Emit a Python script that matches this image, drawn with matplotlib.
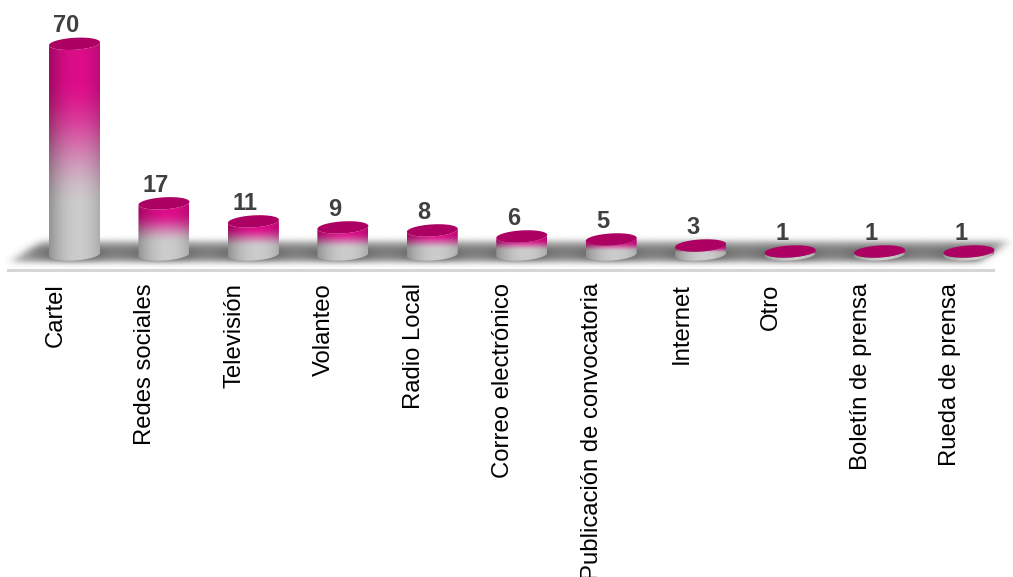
"""3D-looking cylinder bar chart of information channels."""
import numpy as np
import matplotlib.pyplot as plt
from matplotlib.patches import Polygon

categories = ["Cartel", "Redes sociales", "Televisión", "Volanteo", "Radio Local",
              "Correo electrónico", "Publicación de convocatoria", "Internet",
              "Otro", "Boletín de prensa", "Rueda de prensa"]
values = [70, 17, 11, 9, 8, 6, 5, 3, 1, 1, 1]

plt.rcParams['font.family'] = ['Liberation Sans', 'DejaVu Sans']

fig = plt.figure(figsize=(10.13, 5.77), dpi=100)
ax = fig.add_axes([0, 1 - 270 / 577, 1, 270 / 577])
XLIM = (-0.833, 10.492)
YLIM = (-5.15, 84.55)

# cylinder look
w = 0.285      # half width (category units)
h = 2.0        # half height of the ellipse (value units)
k = 0.5        # slight tilt of the ellipses
grey = np.array([0.80, 0.80, 0.80])
magenta = np.array([0.87, 0.05, 0.54])
top_col = '#ad0063'


def ell(cx, cy, t):
    return cx + w * np.cos(t), cy + h * np.sin(t) + k * np.cos(t)


def blur(a, sx, sy):
    def kern(s):
        r = np.arange(-3 * int(s) - 1, 3 * int(s) + 2)
        g = np.exp(-r ** 2 / (2 * s ** 2))
        return g / g.sum()
    kx, ky = kern(sx), kern(sy)
    a = np.apply_along_axis(lambda m: np.convolve(m, kx, mode='same'), 1, a)
    a = np.apply_along_axis(lambda m: np.convolve(m, ky, mode='same'), 0, a)
    return a


idx = np.arange(len(values))

# floor shadow
xs = np.linspace(XLIM[0], XLIM[1], 1013)
ys = np.linspace(YLIM[0], 10, 46)
X, Y = np.meshgrid(xs, ys)
front, back = -2.6, 4.6
frac = (Y - front) / (back - front)
left = -0.72 + frac * 0.36
right = 10.10 + frac * 0.35
floor = ((Y >= front) & (Y <= back) & (X >= left) & (X <= right)).astype(float)
blobs = np.zeros_like(X)
for i in idx:
    blobs += np.exp(-(((X - i + 0.02) / 0.40) ** 2 + ((Y + 0.5) / 2.6) ** 2))
streak = 0.15 * np.exp(-((Y - 1.5) / 1.2) ** 2)
mask = np.clip(0.45 * floor + 0.4 * blobs * floor + streak * floor, 0, 1)
mask = blur(mask, 5.0, 3.0)
shadow = np.zeros(X.shape + (4,))
shadow[..., :3] = 0.27
shadow[..., 3] = np.clip(mask * 1.05, 0, 1)
ax.imshow(shadow, extent=[xs[0], xs[-1], ys[0], ys[-1]], origin='lower',
          aspect='auto', interpolation='bilinear', zorder=1)

# cylinders
for i, v in zip(idx, values):
    tb = np.linspace(np.pi, 2 * np.pi, 40)
    bx, by = ell(i, 0, tb)
    tt = np.linspace(0, -np.pi, 40)
    tx, ty = ell(i, v, tt)
    verts = np.column_stack([np.r_[bx, tx], np.r_[by, ty]])
    side = Polygon(verts, closed=True, facecolor='none', edgecolor='none')
    ax.add_patch(side)

    ny, nx = 200, 60
    y0, y1 = -h - k - 0.5, v + h + k
    yy = np.linspace(y0, y1, ny)[:, None]
    xx = np.linspace(-1, 1, nx)[None, :]
    t = np.clip((yy / v - 0.22) / 0.62, 0, 1)
    t = t * t * (3 - 2 * t)
    shade = 1 - 0.28 * ((xx - 0.15) / 1.15) ** 2
    img = (grey[None, None, :] * (1 - t[..., None]) + magenta[None, None, :] * t[..., None])
    img = np.clip(img * shade[..., None], 0, 1)
    img = np.broadcast_to(img, (ny, nx, 3))
    im = ax.imshow(img, extent=[i - w, i + w, y0, y1], origin='lower',
                   aspect='auto', interpolation='bilinear', zorder=3)
    im.set_clip_path(side)

    tf = np.linspace(0, 2 * np.pi, 80)
    ex, ey = ell(i, v, tf)
    ax.add_patch(Polygon(np.column_stack([ex, ey]), closed=True,
                         facecolor=top_col, edgecolor='none', zorder=4))

    ax.annotate(str(v), xy=(i - 0.09, v + h), xytext=(0, 4),
                textcoords='offset points', ha='center', va='baseline',
                fontsize=17, fontweight='bold', color='#404040', zorder=5)

ax.set_xlim(*XLIM)
ax.set_ylim(*YLIM)
for s in ['top', 'left', 'right']:
    ax.spines[s].set_visible(False)
ax.spines['bottom'].set_bounds(-0.743, 10.269)
ax.spines['bottom'].set_color('#d6d6d6')
ax.spines['bottom'].set_linewidth(2.2)
ax.set_yticks([])
ax.set_xticks(idx - 0.21, categories, rotation=90, fontsize=17.2)
ax.tick_params(axis='x', length=0, pad=9.5)
ax.patch.set_visible(False)

fig.savefig('out.png', dpi=100)
